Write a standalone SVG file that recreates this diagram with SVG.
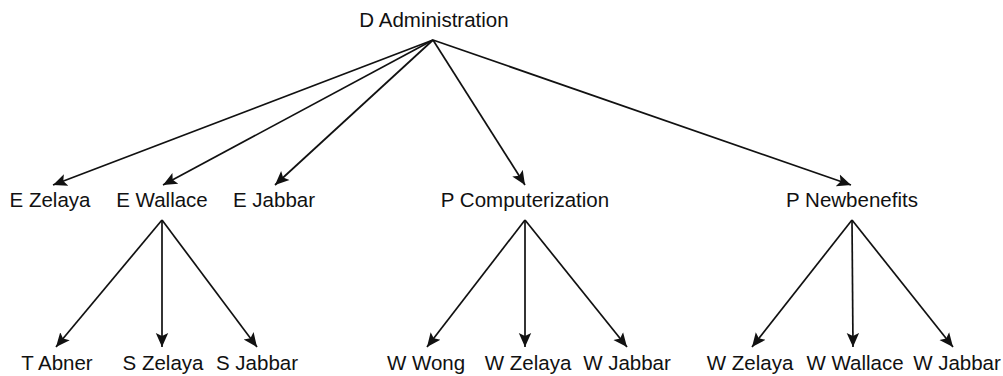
<svg xmlns="http://www.w3.org/2000/svg" width="1003" height="376" viewBox="0 0 1003 376">
  <defs>
    <marker id="arrow" markerUnits="userSpaceOnUse" markerWidth="16" markerHeight="14" refX="14" refY="7" orient="auto">
      <path d="M0,0.8 L14,7 L0,13.2 L3,7 Z" fill="#111"/>
    </marker>
  </defs>
  <style>
    text { font-family: "Liberation Sans", Arial, sans-serif; font-size: 20.5px; fill: #111; text-anchor: middle; }
    .edge { stroke: #111; stroke-width: 1.7; fill: none; marker-end: url(#arrow); }
  </style>
  <rect width="1003" height="376" fill="#fff"/>

  <!-- connectors: root to level 1, then level 1 to leaves -->
  <g id="connectors">
    <line class="edge" x1="433" y1="40" x2="53" y2="185"/>
    <line class="edge" x1="433" y1="40" x2="163" y2="185"/>
    <line class="edge" x1="433" y1="40" x2="275" y2="185"/>
    <line class="edge" x1="433" y1="40" x2="525" y2="185"/>
    <line class="edge" x1="433" y1="40" x2="851" y2="185"/>
    <line class="edge" x1="162" y1="220" x2="56" y2="347"/>
    <line class="edge" x1="162" y1="220" x2="162" y2="347"/>
    <line class="edge" x1="162" y1="220" x2="257" y2="347"/>
    <line class="edge" x1="525" y1="220" x2="427" y2="347"/>
    <line class="edge" x1="525" y1="220" x2="525" y2="347"/>
    <line class="edge" x1="525" y1="220" x2="627" y2="347"/>
    <line class="edge" x1="852" y1="220" x2="752" y2="347"/>
    <line class="edge" x1="852" y1="220" x2="853" y2="347"/>
    <line class="edge" x1="852" y1="220" x2="953" y2="347"/>
  </g>

  <g id="d-administration"><text x="434" y="27">D Administration</text></g>
  <g id="e-zelaya"><text x="50" y="207">E Zelaya</text></g>
  <g id="e-wallace"><text x="162" y="207">E Wallace</text></g>
  <g id="e-jabbar"><text x="274" y="207">E Jabbar</text></g>
  <g id="p-computerization"><text x="525" y="207">P Computerization</text></g>
  <g id="p-newbenefits"><text x="852" y="207">P Newbenefits</text></g>
  <g id="t-abner"><text x="57" y="370">T Abner</text></g>
  <g id="s-zelaya"><text x="163" y="370">S Zelaya</text></g>
  <g id="s-jabbar"><text x="257" y="370">S Jabbar</text></g>
  <g id="w-wong"><text x="426" y="370">W Wong</text></g>
  <g id="w-zelaya-1"><text x="528" y="370">W Zelaya</text></g>
  <g id="w-jabbar-1"><text x="627" y="370">W Jabbar</text></g>
  <g id="w-zelaya-2"><text x="750" y="370">W Zelaya</text></g>
  <g id="w-wallace"><text x="855" y="370">W Wallace</text></g>
  <g id="w-jabbar-2"><text x="957" y="370">W Jabbar</text></g>
</svg>
